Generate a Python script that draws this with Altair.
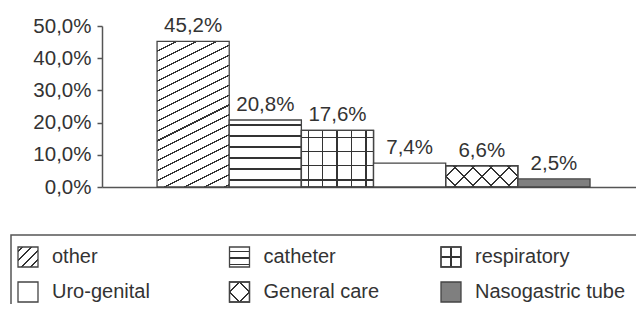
import math
import altair as alt
import pandas as pd

# ---- data ----
categories = ["other", "catheter", "respiratory", "Uro-genital", "General care", "Nasogastric tube"]
values = [45.2, 20.8, 17.6, 7.4, 6.6, 2.5]
y_ticks = [0, 10, 20, 30, 40, 50]
legend_col = [0, 1, 2, 0, 1, 2]
legend_row = [0, 0, 0, 1, 1, 1]

# ---- layout / style ----
PLOT_W = 534
PLOT_H = 161
PAD_OUTER = 0.70
ALIGN = 0.545
STEP = PLOT_W / (len(categories) + 2 * PAD_OUTER)
FONT = "Liberation Sans"
FS = 20.5
LFS = 20
TXT = "#333333"
LINE = "#444444"
SYM = 20
CLEAR = "rgba(255,255,255,0)"


def stripes(W, H, nx, ny, spacing, lw, color="#333333", bg="white", phase=0.0):
    n = math.hypot(nx, ny)
    a, b = nx / n, ny / n
    corners = [(0, 0), (W, 0), (0, H), (W, H)]
    cs = [a * x + b * y for x, y in corners]
    cmin, cmax = min(cs), max(cs)
    rng = cmax - cmin
    cx, cy = corners[cs.index(cmin)]
    u0, v0 = cx / W, cy / H
    gx, gy = a * W, b * H
    k = rng / (gx * gx + gy * gy)
    stops = [(0.0, bg)]
    c = phase
    while c - lw / 2 < rng:
        ta = max(0.0, (c - lw / 2) / rng)
        tb = min(1.0, (c + lw / 2) / rng)
        if tb > 0:
            stops += [(ta, bg), (ta, color), (tb, color), (tb, bg)]
        c += spacing
    stops.append((1.0, bg))
    return alt.Gradient(
        gradient="linear", x1=u0, y1=v0, x2=u0 + k * gx, y2=v0 + k * gy,
        stops=[alt.GradientStop(offset=o, color=col) for o, col in stops],
    )


def bar_fills(cat, H, W):
    if cat == "other":
        return [stripes(W, H, 0.5, 1.0, 8.9, 1.4)]
    if cat == "catheter":
        return [stripes(W, H, 0.0, 1.0, 11.0, 1.6, phase=5)]
    if cat == "respiratory":
        return [stripes(W, H, 0.0, 1.0, 14.2, 1.4, phase=7),
                stripes(W, H, 1.0, 0.0, 14.4, 1.4, bg=CLEAR, phase=7)]
    if cat == "Uro-genital":
        return ["white"]
    if cat == "General care":
        sp = 18 / math.sqrt(2)
        ph = (H / 2) / math.sqrt(2)
        return [stripes(W, H, 1.0, 1.0, sp, 1.5, phase=ph),
                stripes(W, H, 1.0, -1.0, sp, 1.5, bg=CLEAR, phase=ph)]
    return ["#7f7f7f"]


def sym_fills(cat):
    W = H = SYM
    if cat == "other":
        return [stripes(W, H, 1.0, 1.0, 6.5, 1.4, phase=3.3)]
    if cat == "catheter":
        return [stripes(W, H, 0.0, 1.0, 6.5, 1.5, phase=4.5)]
    if cat == "respiratory":
        return [stripes(W, H, 0.0, 1.0, 10.0, 1.4, phase=10),
                stripes(W, H, 1.0, 0.0, 10.0, 1.4, bg=CLEAR, phase=10)]
    if cat == "Uro-genital":
        return ["white"]
    if cat == "General care":
        sp = W / math.sqrt(2)
        ph = (W / 2) / math.sqrt(2)
        return [stripes(W, H, 1.0, 1.0, sp, 1.5, phase=ph),
                stripes(W, H, 1.0, -1.0, sp, 1.5, bg=CLEAR, phase=ph)]
    return ["#7f7f7f"]


df = pd.DataFrame({"category": categories, "value": values})
leg = pd.DataFrame({"category": categories, "col": legend_col, "row": legend_row})

xscale = alt.Scale(domain=categories, paddingInner=0, paddingOuter=PAD_OUTER, align=ALIGN)
yscale = alt.Scale(domain=[0, 50], nice=False)
xaxis = alt.Axis(title=None, labels=False, ticks=False, grid=False,
                 domainColor="#555555", domainWidth=1.5)
yaxis = alt.Axis(title=None, values=y_ticks, grid=False, tickSize=5,
                 tickColor="#555555", tickWidth=1.5, domainColor="#555555",
                 domainWidth=1.5, labelFont=FONT, labelFontSize=FS,
                 labelColor=TXT, labelPadding=6,
                 labelExpr="replace(format(datum.value, '.1f'), '.', ',') + '%'")

base = alt.Chart(df)
bar_layers = []
for cat, v in zip(categories, values):
    H = v / 50 * PLOT_H
    for f in bar_fills(cat, H, STEP):
        bar_layers.append(
            base.transform_filter(alt.datum.category == cat)
            .mark_bar(fill=f, stroke=LINE, strokeWidth=1.3)
            .encode(x=alt.X("category:N", scale=xscale, axis=xaxis, sort=categories),
                    y=alt.Y("value:Q", scale=yscale, axis=yaxis))
        )

labels = base.transform_calculate(
    lab="replace(format(datum.value, '.1f'), '.', ',') + '%'"
).mark_text(font=FONT, fontSize=FS, color=TXT, baseline="alphabetic", dy=-9).encode(
    x=alt.X("category:N", scale=xscale, axis=xaxis, sort=categories),
    y=alt.Y("value:Q", scale=yscale, axis=yaxis),
    text="lab:N",
)

bars = alt.layer(*bar_layers, labels)

# ---- legend ----
lx = alt.Scale(domain=[0, 2], range=[-74, 349])
ly = alt.Scale(domain=[0, 1], range=[231, 266])
lbase = alt.Chart(leg)
frame = lbase.transform_filter(
    (alt.datum.col == 0) & (alt.datum.row == 0)
).mark_rect(fill="transparent", stroke="#555555", strokeWidth=1.5).encode(
    x=alt.value(-91), x2=alt.value(640), y=alt.value(209), y2=alt.value(340)
)

sym_layers = []
for cat in categories:
    for f in sym_fills(cat):
        sym_layers.append(
            lbase.transform_filter(alt.datum.category == cat)
            .mark_square(size=SYM * SYM, fill=f, stroke=LINE, strokeWidth=1.3, opacity=1)
            .encode(x=alt.X("col:Q", scale=lx, axis=None),
                    y=alt.Y("row:Q", scale=ly, axis=None))
        )
ltext = lbase.mark_text(font=FONT, fontSize=LFS, color=TXT, align="left",
                        baseline="middle", dx=24).encode(
    x=alt.X("col:Q", scale=lx, axis=None),
    y=alt.Y("row:Q", scale=ly, axis=None),
    text="category:N",
)
legend = alt.layer(frame, *sym_layers, ltext)

chart = alt.layer(bars, legend).resolve_scale(x="independent", y="independent").properties(
    width=PLOT_W, height=PLOT_H,
    autosize=alt.AutoSizeParams(type="none"),
    padding={"left": 94, "top": 18, "right": 0, "bottom": 117},
).configure_view(stroke="transparent")

chart.save("out.html", embed_options={"renderer": "svg", "actions": False})
